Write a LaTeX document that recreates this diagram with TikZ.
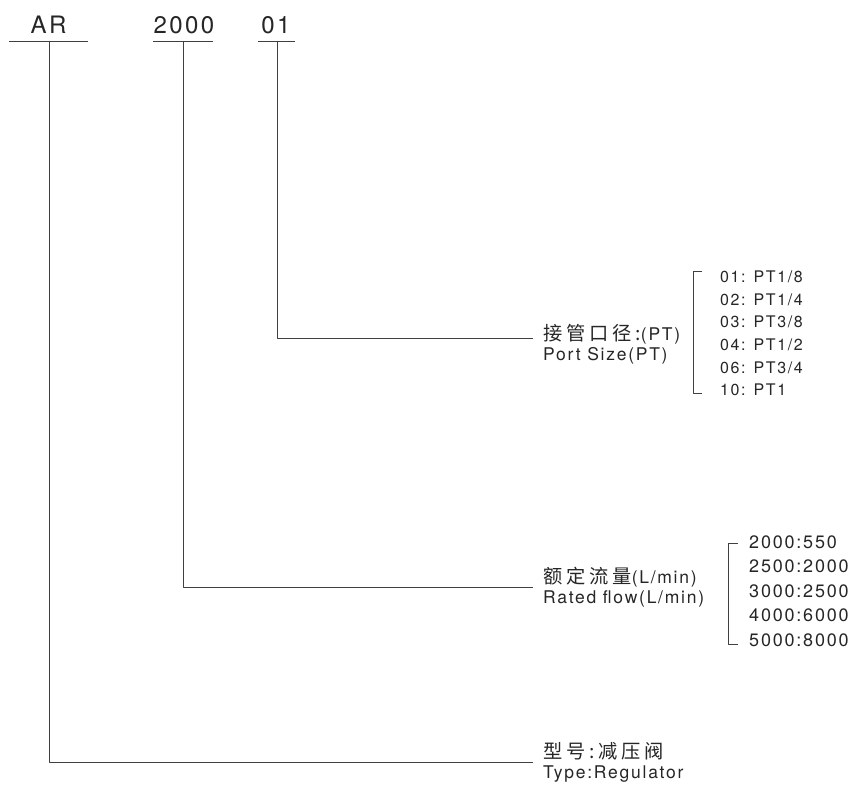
\documentclass[tikz,border=0pt]{standalone}
\usepackage{fontspec}
\setmainfont{TeX Gyre Heros}
\newfontfamily\spaced[LetterSpace=10]{TeX Gyre Heros}
\newfontfamily\cjk[LetterSpace=20,Scale=1.1]{Noto Sans CJK SC}
\usepackage{tikz}
\tikzset{code/.style={inner sep=0pt,font=\spaced\fontsize{24}{28}\selectfont},
  lbl/.style={anchor=west,align=left,inner xsep=10pt,inner ysep=0pt,font=\spaced\fontsize{17.5}{20}\selectfont},
  item/.style={anchor=west,inner sep=0pt,font=\spaced\fontsize{16}{20}\selectfont},
  bar/.style={line width=0.7pt,black!75}}

\begin{document}
\begin{tikzpicture}[x=1pt,y=-1pt,line join=round,text=black!85]
\useasboundingbox (0,0) rectangle (850,786);
% --- code fields
\node[code] (ar) at (48.5,25) {AR};
\node[code] (flow) at (184,25) {2000};
\node[code] (port) at (276,25) {01};
\draw[bar] (9,41) -- (88,41) (153,41) -- (213,41) (258,41) -- (295,41);
\coordinate (arbar) at (49,41);
\coordinate (flowbar) at (183,41);
\coordinate (portbar) at (277,41);
% --- labels
\node[lbl] (portlbl) at (533,344) {{\cjk 接管口径:}(PT)\\Port Size(PT)};
\node[lbl] (flowlbl) at (533,587.5) {{\cjk 额定流量}(L/min)\\Rated flow(L/min)};
\node[lbl] (typelbl) at (533,762) {{\cjk 型号:减压阀}\\Type:Regulator};
\draw[bar] (portbar) |- ([yshift=6pt]portlbl.west);
\draw[bar] (flowbar) |- (flowlbl.west);
\draw[bar] (arbar) |- (typelbl.west);
% --- port size options
\draw[bar] (702,271) -- (693,271) -- (693,393) -- (702,393);
\foreach \t [count=\i] in {01: PT1/8,02: PT1/4,03: PT3/8,04: PT1/2,06: PT3/4,10: PT1}
  \node[item] (p\i) at (720,{277+(\i-1)*22.6}) {\t};
% --- rated flow options
\draw[bar] (738,543) -- (728,543) -- (728,644) -- (738,644);
\foreach \t [count=\i] in {2000:550,2500:2000,3000:2500,4000:6000,5000:8000}
  \node[item,font=\spaced\fontsize{18}{22}\selectfont] (f\i) at (749,{542+(\i-1)*24.5}) {\t};
\end{tikzpicture}
\end{document}
